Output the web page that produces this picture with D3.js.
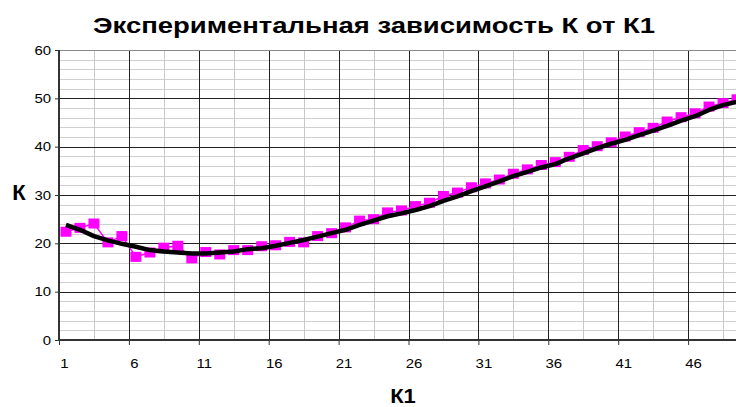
<!DOCTYPE html>
<html>
<head>
<meta charset="utf-8">
<script src="https://cdn.jsdelivr.net/npm/d3@7"></script>
<style>
    body { margin: 0; background: #fff; }
    text { font-family: "Liberation Sans", Arial, sans-serif; }
</style>
</head>
<body>
<div id="chart"></div>
<script>
// K1 categories
const categories = [1, 2, 3, 4, 5, 6, 7, 8, 9, 10, 11, 12, 13, 14, 15, 16, 17, 18, 19, 20,
    21, 22, 23, 24, 25, 26, 27, 28, 29, 30, 31, 32, 33, 34, 35, 36, 37, 38, 39, 40,
    41, 42, 43, 44, 45, 46, 47, 48, 49, 50];

// experimental K (pink markers)
const kValues = [22.4, 23.2, 24.1, 20.2, 21.5, 17.2, 18.1, 19.1, 19.5, 16.9,
    18.2, 17.7, 18.6, 18.6, 19.4, 19.6, 20.3, 20.2, 21.5, 22.1,
    23.3, 24.7, 25.0, 26.4, 26.8, 27.7, 28.4, 29.8, 30.5, 31.6,
    32.4, 33.2, 34.4, 35.3, 36.2, 36.8, 37.9, 39.3, 40.1, 40.9,
    42.1, 43.0, 43.9, 45.2, 46.1, 46.9, 48.3, 49.0, 49.8, 50.7];

// trend (black line)
const trendValues = [23.8, 22.8, 21.5, 20.6, 19.9, 19.3, 18.6, 18.3, 18.1, 17.9,
    17.9, 18.1, 18.3, 18.8, 19.0, 19.5, 20.1, 20.7, 21.4, 22.1,
    22.8, 23.8, 24.7, 25.6, 26.2, 26.9, 27.7, 28.8, 29.7, 30.8,
    31.8, 32.8, 33.9, 34.8, 35.7, 36.4, 37.6, 38.6, 39.7, 40.6,
    41.4, 42.4, 43.3, 44.3, 45.4, 46.3, 47.6, 48.6, 49.3, 50.1];

const xTickLabels = ["1", "6", "11", "16", "21", "26", "31", "36", "41", "46"];
const yTicks = [0, 10, 20, 30, 40, 50, 60];

const W = 736, H = 407;
const plot = {left: 59, top: 50, right: 758, bottom: 340};

const svg = d3.select("#chart")
    .append("svg")
    .attr("width", W)
    .attr("height", H);

// category i sits at the middle of its slot
const x = d3.scaleLinear()
    .domain([0.5, categories.length + 0.5])
    .range([plot.left, plot.right]);

const y = d3.scaleLinear()
    .domain([0, 60])
    .range([plot.bottom, plot.top]);

// the original chart is a bit wider than tall, stretch text the same way
function stretch(sel, k) {
    sel.each(function () {
        const w = this.getComputedTextLength();
        d3.select(this)
            .attr("textLength", w * k)
            .attr("lengthAdjust", "spacingAndGlyphs");
    });
}

const grid = svg.append("g");

// minor horizontal gridlines every 2
grid.selectAll(".hminor")
    .data(d3.range(0, 61, 2))
    .enter()
    .append("line")
    .attr("x1", plot.left).attr("x2", W)
    .attr("y1", d => Math.round(y(d)) + 0.5)
    .attr("y2", d => Math.round(y(d)) + 0.5)
    .attr("stroke", "#cfcfcf");

// minor vertical gridlines in the middle of each group of 5
grid.selectAll(".vminor")
    .data(d3.range(3, categories.length + 1, 5))
    .enter()
    .append("line")
    .attr("x1", d => Math.round(x(d)) + 0.5)
    .attr("x2", d => Math.round(x(d)) + 0.5)
    .attr("y1", plot.top).attr("y2", plot.bottom)
    .attr("stroke", "#c8c8c8");

// major horizontal gridlines
grid.selectAll(".hmajor")
    .data(yTicks.slice(1, -1))
    .enter()
    .append("line")
    .attr("x1", plot.left).attr("x2", W)
    .attr("y1", d => Math.round(y(d)) + 0.5)
    .attr("y2", d => Math.round(y(d)) + 0.5)
    .attr("stroke", "#222");

// major vertical gridlines between categories 5|6, 10|11 ...
grid.selectAll(".vmajor")
    .data(d3.range(5.5, categories.length, 5))
    .enter()
    .append("line")
    .attr("x1", d => Math.round(x(d)) + 0.5)
    .attr("x2", d => Math.round(x(d)) + 0.5)
    .attr("y1", plot.top).attr("y2", plot.bottom)
    .attr("stroke", "#222");

// top border of plot area
svg.append("line")
    .attr("x1", plot.left).attr("x2", W)
    .attr("y1", plot.top + 0.5).attr("y2", plot.top + 0.5)
    .attr("stroke", "#888");

// axes
const yAxis = svg.append("g")
    .attr("transform", `translate(${plot.left},0)`)
    .call(d3.axisLeft(y).tickValues(yTicks).tickSize(4).tickPadding(4));

const xTicks = svg.append("g")
    .attr("transform", `translate(0,${plot.bottom})`)
    .call(d3.axisBottom(x)
        .tickValues(d3.range(0.5, categories.length, 5))
        .tickSize(5)
        .tickFormat(""));

const xLabels = svg.append("g")
    .attr("transform", `translate(-2,${plot.bottom})`)
    .call(d3.axisBottom(x)
        .tickValues(xTickLabels.map(Number))
        .tickSize(0)
        .tickPadding(19)
        .tickFormat(d => String(d)));

[yAxis, xTicks, xLabels].forEach(g => {
    g.selectAll("text")
        .attr("font-family", "Liberation Sans, Arial, sans-serif")
        .attr("font-size", 13)
        .attr("fill", "#000")
        .call(stretch, 1.15);
    g.selectAll("line").attr("stroke", "#333");
    g.select(".domain").attr("stroke", "#333").attr("stroke-width", 2);
});
xLabels.select(".domain").remove();
xTicks.select(".domain").attr("d", `M${plot.left},0H${W}`);
yAxis.select(".domain").attr("d", `M0,${plot.top}V${plot.bottom}`);

// data line + markers
const line = d3.line()
    .x((d, i) => x(categories[i]))
    .y(d => y(d));

svg.append("path")
    .datum(kValues)
    .attr("fill", "none")
    .attr("stroke", "#ff00ff")
    .attr("stroke-width", 1.5)
    .attr("d", line);

svg.selectAll(".marker")
    .data(kValues)
    .enter()
    .append("rect")
    .attr("x", (d, i) => x(categories[i]) - 5.5)
    .attr("y", d => y(d) - 5)
    .attr("width", 11)
    .attr("height", 10)
    .attr("fill", "#ff00ff");

// trend line
svg.append("path")
    .datum(trendValues)
    .attr("fill", "none")
    .attr("stroke", "#000")
    .attr("stroke-width", 4.5)
    .attr("stroke-linejoin", "round")
    .attr("d", line);

// titles
svg.append("text")
    .attr("x", 374)
    .attr("y", 33)
    .attr("text-anchor", "middle")
    .attr("font-size", 22)
    .attr("font-weight", "bold")
    .attr("textLength", 562)
    .attr("lengthAdjust", "spacingAndGlyphs")
    .text("Экспериментальная зависимость К от К1");

svg.append("text")
    .attr("x", 19)
    .attr("y", 200)
    .attr("text-anchor", "middle")
    .attr("font-size", 22)
    .attr("font-weight", "bold")
    .text("К");

svg.append("text")
    .attr("x", 403)
    .attr("y", 403)
    .attr("text-anchor", "middle")
    .attr("font-size", 20)
    .attr("font-weight", "bold")
    .text("К1")
    .call(stretch, 1.1);
</script>
</body>
</html>
